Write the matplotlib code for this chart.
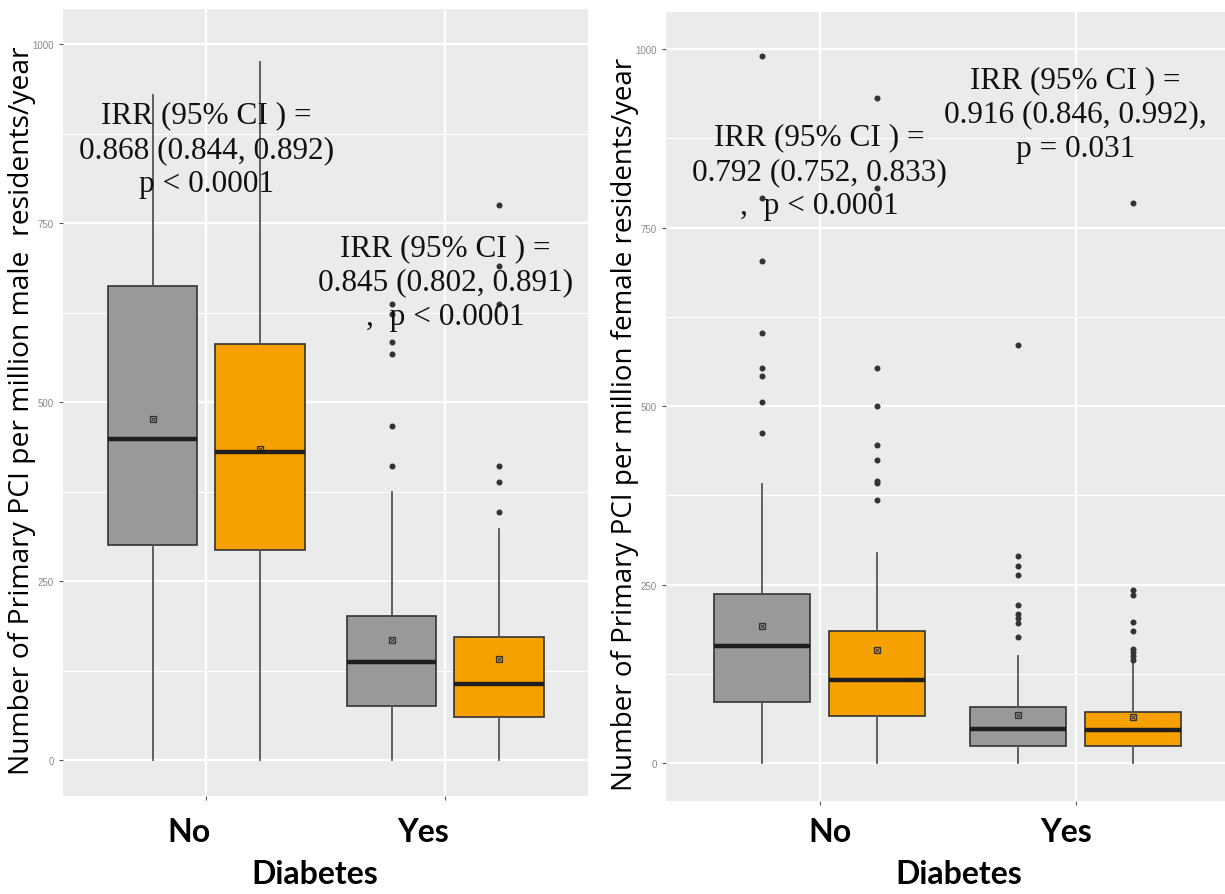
import matplotlib
matplotlib.use("Agg")
import matplotlib.pyplot as plt
from matplotlib.transforms import blended_transform_factory

# ---------------- data ----------------
categories = ["No", "Yes"]

# Male panel (left): [No, Yes] for each group (grey, orange)
male_grey_whislo = [0, 0]
male_grey_q1 = [300, 75]
male_grey_med = [448, 137]
male_grey_q3 = [662, 201]
male_grey_whishi = [929, 374]
male_grey_mean = [476, 168]
male_grey_fliers = [[], [637, 623, 584, 567, 466, 411]]

male_orange_whislo = [0, 0]
male_orange_q1 = [293, 61]
male_orange_med = [430, 106]
male_orange_q3 = [581, 172]
male_orange_whishi = [975, 323]
male_orange_mean = [434, 141]
male_orange_fliers = [[], [775, 690, 637, 411, 388, 346]]

# Female panel (right)
female_grey_whislo = [0, 0]
female_grey_q1 = [86, 24]
female_grey_med = [164, 48]
female_grey_q3 = [237, 79]
female_grey_whishi = [391, 150]
female_grey_mean = [192, 67]
female_grey_fliers = [[990, 792, 703, 602, 553, 542, 506, 463],
                      [585, 290, 276, 263, 221, 209, 203, 196, 176]]

female_orange_whislo = [0, 0]
female_orange_q1 = [66, 24]
female_orange_med = [116, 46]
female_orange_q3 = [185, 72]
female_orange_whishi = [295, 140]
female_orange_mean = [158, 64]
female_orange_fliers = [[931, 806, 553, 500, 445, 424, 395, 392, 368],
                        [785, 243, 235, 198, 185, 160, 155, 150, 145]]

y_ticks = [0, 250, 500, 750, 1000]
y_tick_labels = ["0", "250", "500", "750", "1000"]

male_ylabel = "Number of Primary PCI per million male  residents/year"
female_ylabel = "Number of Primary PCI per million female residents/year"
xlabel = "Diabetes"

male_annotations = ["IRR (95% CI ) =\n0.868 (0.844, 0.892)\np < 0.0001",
                    "IRR (95% CI ) =\n0.845 (0.802, 0.891)\n,  p < 0.0001"]
female_annotations = ["IRR (95% CI ) =\n0.792 (0.752, 0.833)\n,  p < 0.0001",
                      "IRR (95% CI ) =\n0.916 (0.846, 0.992),\np = 0.031"]

# ---------------- style ----------------
GREY = "#999999"
ORANGE = "#F7A100"
PANEL = "#EBEBEB"
DODGE = 0.225
BOXW = 0.375

fig = plt.figure(figsize=(12.25, 8.95), dpi=100)
fig.patch.set_facecolor("white")


def make_stats(whislo, q1, med, q3, whishi, mean, fliers):
    out = []
    for i in range(len(categories)):
        out.append(dict(whislo=whislo[i], q1=q1[i], med=med[i], q3=q3[i],
                        whishi=whishi[i], mean=mean[i], fliers=fliers[i]))
    return out


def draw_panel(ax, grey_stats, orange_stats, xlim, ylim, annotations, ann_y,
               label_x, xlabel_x):
    ax.set_facecolor(PANEL)
    for stats, off, col in ((grey_stats, -DODGE, GREY), (orange_stats, DODGE, ORANGE)):
        pos = [i + off for i in range(len(categories))]
        ax.bxp(stats, positions=pos, widths=BOXW, patch_artist=True,
               showcaps=False, showmeans=False, showfliers=True, manage_ticks=False,
               boxprops=dict(facecolor=col, edgecolor="#333333", linewidth=1.2),
               medianprops=dict(color="#1e1e1e", linewidth=3.2),
               whiskerprops=dict(color="#555555", linewidth=1.3),
               flierprops=dict(marker="o", markersize=3.3, markerfacecolor="#333333",
                               markeredgecolor="#333333"))
        means = [s["mean"] for s in stats]
        ax.plot(pos, means, linestyle="none", marker="s", markersize=5,
                markerfacecolor="none", markeredgecolor="#333333", markeredgewidth=0.9)
        ax.plot(pos, means, linestyle="none", marker="x", markersize=3.5,
                markeredgecolor="#333333", markeredgewidth=0.7)

    ax.set_xlim(*xlim)
    ax.set_ylim(*ylim)
    for s in ax.spines.values():
        s.set_visible(False)
    ax.set_yticks(y_ticks)
    ax.set_yticks([125, 375, 625, 875], minor=True)
    ax.set_xticks(range(len(categories)))
    ax.grid(which="major", color="white", linewidth=1.6)
    ax.grid(which="minor", axis="y", color="white", linewidth=0.8)
    ax.set_axisbelow(True)
    ax.set_yticklabels(y_tick_labels, fontsize=7, color="#8a8a8a",
                       family="Liberation Sans")
    ax.set_xticklabels(["", ""])
    ax.tick_params(axis="both", which="major", length=3, color="#555555", width=0.8)
    ax.tick_params(axis="y", which="minor", length=0)

    for i, txt in enumerate(annotations):
        ax.text(i, ann_y[i], txt, ha="center", va="center", fontsize=22.5,
                family="Liberation Serif", linespacing=1.25, color="#111111")

    tr = blended_transform_factory(ax.transData, fig.transFigure)
    for i, cat in enumerate(categories):
        ax.text(label_x[i], 1 - 833 / 895, cat, transform=tr,
                ha="center", va="center", fontsize=23, fontweight="bold",
                family="Lato", color="black")
    ax.text(xlabel_x, 1 - 875 / 895, xlabel, transform=tr,
            ha="center", va="center", fontsize=23, fontweight="bold",
            family="Lato", color="black")


# left panel
axL = fig.add_axes([63 / 1225, 1 - 797 / 895, 525 / 1225, 787 / 895])
draw_panel(axL,
           make_stats(male_grey_whislo, male_grey_q1, male_grey_med, male_grey_q3,
                      male_grey_whishi, male_grey_mean, male_grey_fliers),
           make_stats(male_orange_whislo, male_orange_q1, male_orange_med, male_orange_q3,
                      male_orange_whishi, male_orange_mean, male_orange_fliers),
           (-0.6, 1.597), (-50, 1049), male_annotations, [853, 668],
           [-0.073, 0.906], 0.453)

# right panel
axR = fig.add_axes([666 / 1225, 1 - 802 / 895, 559 / 1225, 789 / 895])
draw_panel(axR,
           make_stats(female_grey_whislo, female_grey_q1, female_grey_med, female_grey_q3,
                      female_grey_whishi, female_grey_mean, female_grey_fliers),
           make_stats(female_orange_whislo, female_orange_q1, female_orange_med,
                      female_orange_q3, female_orange_whishi, female_orange_mean,
                      female_orange_fliers),
           (-0.6, 1.584), (-53, 1052), female_annotations, [829, 909],
           [0.04, 0.964], 0.542)

fig.text(22 / 1225, 1 - 411 / 895, male_ylabel, rotation=90, ha="center",
         va="center", fontsize=20.3, family="Open Sans", color="black")
fig.text(625 / 1225, 1 - 424 / 895, female_ylabel, rotation=90, ha="center",
         va="center", fontsize=20.0, family="Open Sans", color="black")

fig.savefig("out.png", dpi=100, facecolor="white")
